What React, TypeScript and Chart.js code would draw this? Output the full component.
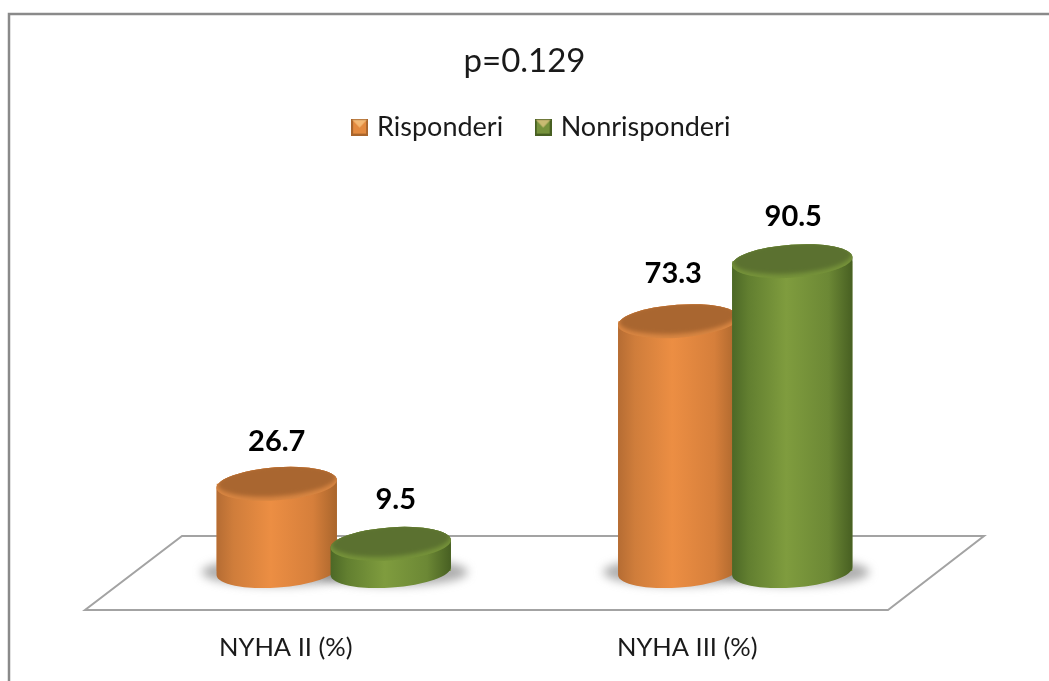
import React, { useEffect, useRef } from "react";
import { Chart, registerables } from "chart.js";

Chart.register(...registerables);

const categories = ["NYHA II (%)", "NYHA III (%)"];
const responders = [26.7, 73.3];
const nonResponders = [9.5, 90.5];
const seriesNames = ["Risponderi", "Nonrisponderi"];
const titleText = "p=0.129";
const floorValue = 1.7;
const pxPerUnit = 3.49;

const FONT = "Lato, Carlito, sans-serif";
const palettes = [
  { edgeL: "#b56c33", inL: "#cf7d3b", mid: "#ec8e43", inR: "#d67f3b", edgeR: "#a9652c", face: "#a96630", rim: "#d98642", solid: "#e38a3f" },
  { edgeL: "#4c6826", inL: "#627f30", mid: "#7f9c3e", inR: "#6c8835", edgeR: "#475f22", face: "#5b7130", rim: "#76933a", solid: "#76923c" },
];
const labelNudgeX = [
  [0, 5],
  [-5, 1],
];
const labelNudgeY = [
  [2, 0],
  [-4, -1],
];

function marker(p: any) {
  const c = document.createElement("canvas");
  c.width = 17;
  c.height = 17;
  const g = c.getContext("2d")!;
  g.fillStyle = p.edgeR;
  g.fillRect(0, 0, 17, 17);
  g.fillStyle = p.solid;
  g.fillRect(2, 2, 13, 13);
  g.beginPath();
  g.moveTo(1, 1);
  g.lineTo(16, 1);
  g.lineTo(8.5, 9);
  g.closePath();
  g.fillStyle = "rgba(255,215,150,0.6)";
  g.fill();
  return c;
}

const cylinderPlugin = {
  id: "cylinders",
  afterLayout(chart: any) {
    chart.legend.left += 8.5;
    chart.legend.right += 8.5;
    chart.legend.top -= 5;
    chart.titleBlock.left -= 10;
    chart.titleBlock.right -= 10;
  },
  beforeDatasetsDraw(chart: any) {
    const { ctx, chartArea: a } = chart;
    ctx.save();
    // border of the picture
    ctx.strokeStyle = "#8a8a8a";
    ctx.lineWidth = 2.5;
    ctx.beginPath();
    ctx.moveTo(9, 681);
    ctx.lineTo(9, 14);
    ctx.lineTo(1049, 14);
    ctx.stroke();
    // floor
    ctx.strokeStyle = "#a3a3a3";
    ctx.lineWidth = 2;
    ctx.beginPath();
    ctx.moveTo(a.left - 48, a.bottom + 33);
    ctx.lineTo(a.right - 48, a.bottom + 33);
    ctx.lineTo(a.right + 48, a.bottom - 41);
    ctx.lineTo(a.left + 49, a.bottom - 41);
    ctx.closePath();
    ctx.stroke();
    // shadows
    ctx.fillStyle = "rgba(125,125,125,0.62)";
    ctx.filter = "blur(5px)";
    chart.getDatasetMeta(0).data.concat(chart.getDatasetMeta(1).data).forEach((el: any) => {
      ctx.beginPath();
      ctx.ellipse(el.x + 1, el.base + 1, el.width / 2 + 16, 14, 0, 0, Math.PI * 2);
      ctx.fill();
    });
    ctx.restore();
  },
  afterDatasetsDraw(chart: any) {
    const { ctx } = chart;
    const rot = (-4 * Math.PI) / 180;
    [0, 1].forEach((ds) => {
      const p = palettes[ds];
      chart.getDatasetMeta(ds).data.forEach((el: any) => {
        const rx = el.width / 2 + 0.3;
        const ry = 16.5;
        const l = el.x - rx;
        const grad = ctx.createLinearGradient(l, 0, l + rx * 2, 0);
        grad.addColorStop(0, p.edgeL);
        grad.addColorStop(0.14, p.inL);
        grad.addColorStop(0.45, p.mid);
        grad.addColorStop(0.8, p.inR);
        grad.addColorStop(1, p.edgeR);
        ctx.save();
        ctx.fillStyle = grad;
        ctx.beginPath();
        ctx.ellipse(el.x, el.base, rx, ry, rot, 0, Math.PI);
        ctx.ellipse(el.x, el.y, rx, ry, rot, Math.PI, Math.PI * 2);
        ctx.closePath();
        ctx.fill();
        // top face with a lit front bevel
        ctx.fillStyle = p.rim;
        ctx.beginPath();
        ctx.ellipse(el.x, el.y, rx, ry, rot, 0, Math.PI * 2);
        ctx.fill();
        ctx.save();
        ctx.clip();
        ctx.filter = "blur(2px)";
        ctx.fillStyle = p.face;
        ctx.beginPath();
        ctx.ellipse(el.x, el.y - 3, rx - 1, ry - 1, rot, 0, Math.PI * 2);
        ctx.fill();
        ctx.restore();
        ctx.restore();
      });
    });
    // value labels
    ctx.save();
    ctx.fillStyle = "#000";
    ctx.font = `bold 29px ${FONT}`;
    ctx.textAlign = "center";
    ctx.textBaseline = "middle";
    [responders, nonResponders].forEach((vals, ds) => {
      const els = chart.getDatasetMeta(ds).data;
      vals.forEach((v, i) => {
        ctx.fillText(v.toFixed(1), els[i].x + labelNudgeX[i][ds], els[i].y - 44 + labelNudgeY[i][ds]);
      });
    });
    ctx.restore();
  },
};

export default function App() {
  const ref = useRef<HTMLCanvasElement>(null);
  useEffect(() => {
    const chart = new Chart(ref.current!, {
      type: "bar",
      data: {
        labels: categories,
        datasets: [
          { label: seriesNames[0], data: responders, backgroundColor: palettes[0].solid, base: floorValue },
          { label: seriesNames[1], data: nonResponders, backgroundColor: palettes[1].solid, base: floorValue },
        ],
      },
      plugins: [cylinderPlugin],
      options: {
        responsive: false,
        animation: false,
        layout: { padding: { left: 133, right: 113, top: 0, bottom: 0 } },
        datasets: { bar: { categoryPercentage: 0.568, barPercentage: 1.053, borderWidth: 0 } },
        plugins: {
          tooltip: { enabled: false },
          title: {
            display: true,
            text: titleText,
            color: "#1a1a1a",
            font: { family: FONT, size: 33, weight: "normal" },
            padding: { top: 42, bottom: 1 },
          },
          legend: {
            display: true,
            position: "top",
            labels: {
              usePointStyle: true,
              boxWidth: 8,
              color: "#1a1a1a",
              padding: 36,
              font: { family: FONT, size: 27 },
              generateLabels: () =>
                seriesNames.map((n, i) => ({
                  text: n,
                  datasetIndex: i,
                  pointStyle: marker(palettes[i]),
                  fontColor: "#1a1a1a",
                  lineWidth: 0,
                })),
            },
          },
        },
        scales: {
          x: {
            grid: { display: false },
            border: { display: false },
            afterFit: (s: any) => {
              s.height = 104;
            },
            ticks: {
              labelOffset: -48,
              padding: 47,
              maxRotation: 0,
              autoSkip: false,
              color: "#1a1a1a",
              font: { family: FONT, size: 25.5 },
            },
          },
          y: { display: false, min: 0, max: 120 },
        },
      },
    } as any);
    const a = chart.chartArea;
    (chart.options.scales as any).y.max = (a.bottom - a.top) / pxPerUnit;
    chart.update();
    return () => chart.destroy();
  }, []);
  return (
    <div style={{ position: "absolute", left: 0, top: 0, width: 1049, height: 681, background: "#fff" }}>
      <canvas ref={ref} width={1049} height={681} style={{ display: "block" }} />
    </div>
  );
}
